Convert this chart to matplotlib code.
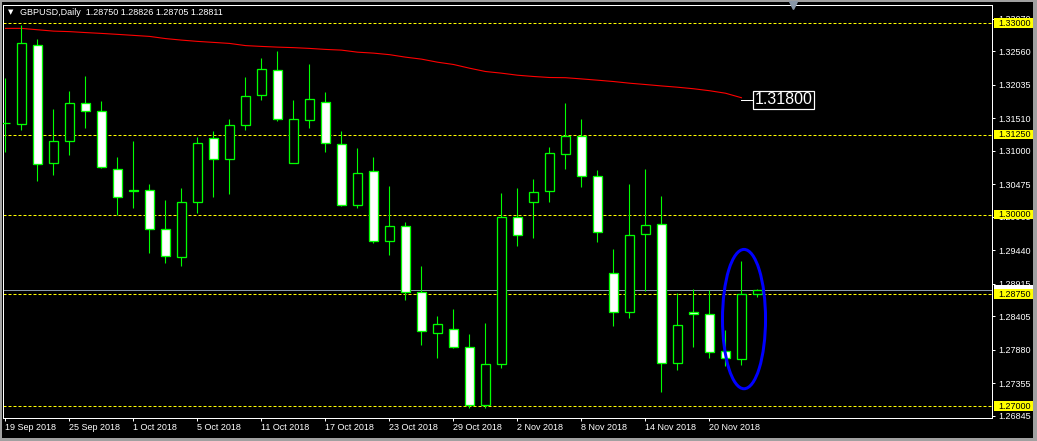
import matplotlib
matplotlib.use('Agg')
import matplotlib.pyplot as plt
from matplotlib.patches import Rectangle, Ellipse
from matplotlib.lines import Line2D

W, H, DPI = 1037, 441, 100

# ---------------- data ----------------
symbol_title = 'GBPUSD,Daily  1.28750 1.28826 1.28705 1.28811'

date_labels = ['19 Sep 2018', '25 Sep 2018', '1 Oct 2018', '5 Oct 2018', '11 Oct 2018',
               '17 Oct 2018', '23 Oct 2018', '29 Oct 2018', '2 Nov 2018', '8 Nov 2018',
               '14 Nov 2018', '20 Nov 2018']
date_tick_bars = [0, 4, 8, 12, 16, 20, 24, 28, 32, 36, 40, 44]

opens = [1.31434, 1.31425, 1.32650, 1.30812, 1.31151, 1.31750, 1.31629, 1.30718, 1.30382, 1.30388,
         1.29775, 1.29336, 1.30200, 1.31205, 1.30875, 1.31409, 1.31880, 1.32257, 1.30812, 1.31487,
         1.31770, 1.31110, 1.30152, 1.30686, 1.29587, 1.29823, 1.28786, 1.28142, 1.28205, 1.27922,
         1.27011, 1.27652, 1.29964, 1.30193, 1.30372, 1.30953, 1.31236, 1.30608, 1.29084, 1.28472,
         1.29697, 1.29854, 1.27680, 1.28472, 1.28440, 1.27859, 1.27743, 1.28750]
highs = [1.32141, 1.32969, 1.32749, 1.31649, 1.31932, 1.32168, 1.31775, 1.30895, 1.31147, 1.30471,
         1.30220, 1.30408, 1.31209, 1.31315, 1.31492, 1.32152, 1.32450, 1.32560, 1.31802, 1.32356,
         1.31916, 1.31304, 1.31037, 1.30895, 1.30440, 1.29885, 1.29194, 1.28409, 1.28524, 1.28126,
         1.28299, 1.30330, 1.30408, 1.30550, 1.31052, 1.31743, 1.31492, 1.30691, 1.29466, 1.30471,
         1.30707, 1.30298, 1.28775, 1.28838, 1.28822, 1.28194, 1.29278, 1.28826]
lows = [1.30979, 1.31319, 1.30523, 1.30613, 1.30927, 1.31355, 1.30727, 1.29995, 1.30099, 1.29392,
        1.29235, 1.29199, 1.30020, 1.30272, 1.30319, 1.31319, 1.31791, 1.31465, 1.30806, 1.31355,
        1.30979, 1.30130, 1.30099, 1.29549, 1.29361, 1.28654, 1.27963, 1.27759, 1.27906, 1.26964,
        1.26976, 1.27602, 1.29502, 1.29628, 1.30193, 1.30712, 1.30429, 1.29565, 1.28261, 1.28371,
        1.28806, 1.27225, 1.27570, 1.27931, 1.27759, 1.27633, 1.27649, 1.28705]
closes = [1.31440, 1.32681, 1.30796, 1.31158, 1.31754, 1.31629, 1.30743, 1.30272, 1.30376, 1.29775,
          1.29351, 1.30200, 1.31126, 1.30875, 1.31409, 1.31864, 1.32288, 1.31503, 1.31503, 1.31817,
          1.31126, 1.30152, 1.30655, 1.29587, 1.29823, 1.28786, 1.28173, 1.28283, 1.27922, 1.27011,
          1.27655, 1.29964, 1.29675, 1.30357, 1.30969, 1.31236, 1.30608, 1.29728, 1.28472, 1.29681,
          1.29838, 1.27680, 1.28268, 1.28440, 1.27853, 1.27749, 1.28750, 1.28811]

moving_avg = [1.32917, 1.32917, 1.32895, 1.32874, 1.32866, 1.32851, 1.32838, 1.32823, 1.32807, 1.32791,
              1.32757, 1.32733, 1.32713, 1.32697, 1.32681, 1.32647, 1.32634, 1.32623, 1.32615, 1.32603,
              1.32587, 1.32576, 1.32544, 1.32529, 1.32505, 1.32466, 1.32435, 1.32387, 1.32351, 1.32293,
              1.32241, 1.32215, 1.32183, 1.32163, 1.32147, 1.32144, 1.32125, 1.32105, 1.32084, 1.32058,
              1.32037, 1.32015, 1.31995, 1.31971, 1.31940, 1.31901, 1.31830]
ma_label_value = 1.31800

level_lines = [1.33000, 1.31250, 1.30000, 1.28750, 1.27000]
price_ticks = [1.33070, 1.32560, 1.32035, 1.31510, 1.31000, 1.30475, 1.29965,
               1.29440, 1.28915, 1.28405, 1.27880, 1.27355, 1.26845]
bid_price = 1.28811

# ---------------- style ----------------
GREEN = '#00ff00'
SMALL = 6.5
FONT = ['Liberation Sans', 'DejaVu Sans']
px = 72.0 / DPI  # one pixel in points

fig = plt.figure(figsize=(W / DPI, H / DPI), dpi=DPI, facecolor='black')
ax_l, ax_r, ax_t, ax_b = 3, 992, 5, 418
ax = fig.add_axes([ax_l / W, 1 - ax_b / H, (ax_r - ax_l) / W, (ax_b - ax_t) / H])
ax.set_facecolor('black')

n = len(opens)
xs = list(range(n))

ax.set_xlim(-0.156, 61.66)
ax.set_ylim(1.26812, 1.33283)

# level lines (yellow dashed)
for lv in level_lines:
    ax.axhline(lv, color='#ffff00', lw=px, dashes=(3, 2), zorder=1)

# bid line
ax.axhline(bid_price, color='#8c9aaa', lw=px, zorder=1.2)

# moving average
ax.plot(xs[:len(moving_avg)], moving_avg, color='#ff0000', lw=px * 1.1, zorder=1.5)

# candles
bull = [c >= o for o, c in zip(opens, closes)]
ax.vlines(xs, lows, highs, color=GREEN, lw=px * 1.1, zorder=2)
ax.bar(xs, [c - o for o, c in zip(opens, closes)], bottom=opens, width=0.6,
       color=['black' if b else 'white' for b in bull], edgecolor=GREEN,
       linewidth=px * 1.3, zorder=3)

# MA price label
ax.plot([len(moving_avg) - 1, 46.7], [ma_label_value, ma_label_value], color='white', lw=px, zorder=4)
ax.text(46.82, ma_label_value, '%.5f' % ma_label_value, color='white', fontsize=11.5,
        family=FONT, ha='left', va='center', zorder=7,
        bbox=dict(boxstyle='square,pad=0.1', fc='black', ec='white', lw=px * 1.2))

# blue ellipse
ell = Ellipse((46.16, 1.28362), width=2.69, height=0.02183, fill=False,
              edgecolor='#0000ff', lw=px * 3, zorder=6)
ax.add_patch(ell)

# axes frame
for s in ax.spines.values():
    s.set_color('white')
    s.set_linewidth(px)

# x ticks
ax.set_xticks(date_tick_bars)
ax.set_xticklabels(date_labels, ha='left', family=FONT)
ax.tick_params(axis='x', colors='white', labelsize=SMALL, length=3 * px, width=px,
               pad=1.5 * px, direction='out')

# y ticks right side
ax.yaxis.tick_right()
ax.set_yticks(price_ticks)
ax.set_yticklabels(['%.5f' % v for v in price_ticks], family=FONT)
ax.tick_params(axis='y', colors='white', labelsize=SMALL, length=3 * px, width=px,
               pad=3 * px, direction='out')

# yellow level boxes on the price scale
ytr = ax.get_yaxis_transform()
kpx = (1.33283 - 1.26812) / (ax_b - ax_t)
bx0 = (994 - ax_l) / (ax_r - ax_l)
bw = (1035 - 994) / (ax_r - ax_l)
# bid marker box (mostly hidden behind the 1.28750 box)
ax.add_patch(Rectangle((bx0, bid_price - 5.5 * kpx), bw, 11 * kpx, transform=ytr,
                       facecolor='white', edgecolor='none', clip_on=False, zorder=8))
for lv in level_lines:
    ax.add_patch(Rectangle((bx0, lv - 4.7 * kpx), bw, 9.6 * kpx, transform=ytr,
                           facecolor='#ffff00', edgecolor='none', clip_on=False, zorder=9))
    ax.text(bx0 + 4 / (ax_r - ax_l), lv, '%.5f' % lv, transform=ytr, color='black',
            fontsize=SMALL, family=FONT, va='center', ha='left', clip_on=False, zorder=10)

# title
fig.text(8 / W, 1 - 12.5 / H, '\u25bc', color='white', fontsize=5, family='DejaVu Sans',
         va='center', ha='left')
fig.text(20 / W, 1 - 12.5 / H, symbol_title, color='white', fontsize=SMALL, family=FONT,
         va='center', ha='left')

# chart shift marker
fig.add_artist(Line2D([793 / W], [1 - 4.5 / H], marker='v', markersize=6,
                      color='#8a98a8', transform=fig.transFigure, linestyle='none'))

# window border
gray = '#a0a0a0'
for (x0, y0, w, h) in [(0, 0, 2, H), (0, 0, W, 1.5), (W - 4, 0, 4, H), (0, H - 3, W, 3)]:
    fig.add_artist(Rectangle((x0 / W, 1 - (y0 + h) / H), w / W, h / H, transform=fig.transFigure,
                             facecolor=gray, edgecolor='none'))

fig.savefig('out.png', dpi=DPI, facecolor='black')
